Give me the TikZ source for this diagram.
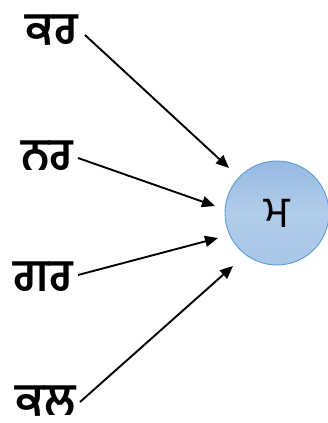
\documentclass[tikz,border=0pt]{standalone}
\usepackage{fontspec}
\newfontfamily\gurfont[Script=Gurmukhi]{Hind Jalandhar}
\usetikzlibrary{arrows.meta}
\begin{document}
\begin{tikzpicture}[x=1pt,y=-1pt,
  lbl/.style={font=\gurfont\bfseries\fontsize{45}{50}\selectfont, inner sep=0pt},
  arr/.style={line width=1.9pt, -{Triangle[length=13pt,width=11pt]}},
  neuron/.style={circle, minimum size=104pt, inner sep=0pt, draw={rgb,255:red,91;green,155;blue,213}, line width=0.9pt,
    top color={rgb,255:red,150;green,185;blue,225}, bottom color={rgb,255:red,168;green,198;blue,232}, middle color={rgb,255:red,178;green,205;blue,235}}]
\useasboundingbox (0,0) rectangle (328,423);
\node[lbl] (kar) at (52,30) {ਕਰ};
\node[lbl] (nar) at (47,156) {ਨਰ};
\node[lbl] (gar) at (43,277) {ਗਰ};
\node[lbl] (kal) at (46,401) {ਕਲ};
\node[neuron] (m) at (277,213) {\gurfont\fontsize{44}{50}\selectfont ਮ};
\coordinate (t1) at (229,168);
\coordinate (t2) at (215,206);
\coordinate (t3) at (218,238);
\coordinate (t4) at (233,266);
\draw[arr] (85,35) -- (t1);
\draw[arr] (78,158) -- (t2);
\draw[arr] (78,275) -- (t3);
\draw[arr] (80,402) -- (t4);
\end{tikzpicture}
\end{document}
